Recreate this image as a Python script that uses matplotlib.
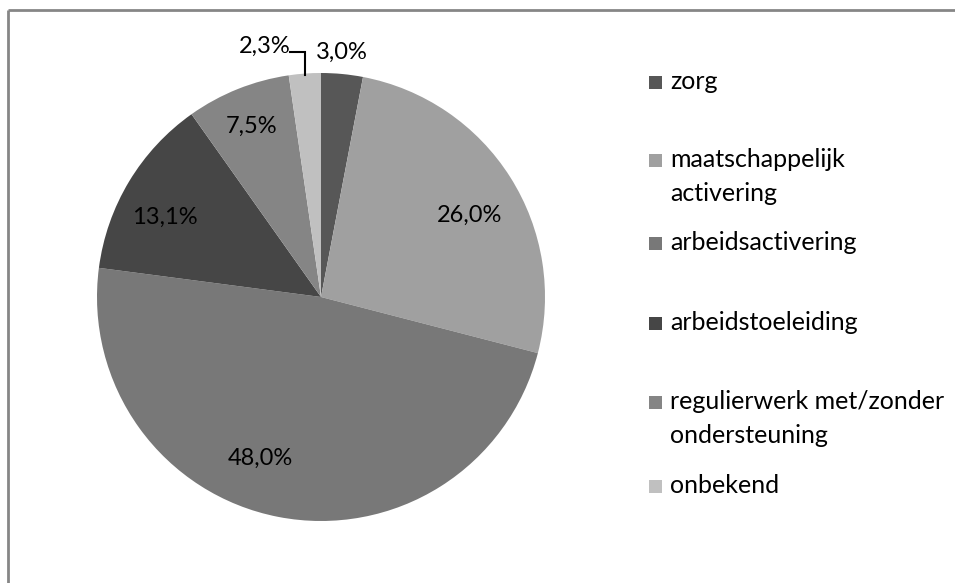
import matplotlib.pyplot as plt
from matplotlib.patches import Rectangle

categories = ['zorg', 'maatschappelijk\nactivering', 'arbeidsactivering',
              'arbeidstoeleiding', 'regulierwerk met/zonder\nondersteuning', 'onbekend']
values = [3.0, 26.0, 48.0, 13.1, 7.5, 2.3]
colors = ['#575757', '#a0a0a0', '#787878', '#464646', '#858585', '#c0c0c0']

# label positions in pixels (from top-left), picked by eye
label_pos = [(342, 52), (470, 215), (260, 458), (165, 217), (252, 126), (265, 46)]
legend_y = [82, 160, 243, 323, 402, 486]

W, H = 955, 583
fig = plt.figure(figsize=(W / 100, H / 100), dpi=100)
ax = fig.add_axes([0, 0, 1, 1])

font = 'Lato'

ax.pie(values, colors=colors, startangle=90, counterclock=False,
       center=(321, H - 297), radius=224, frame=True,
       wedgeprops=dict(linewidth=0))
ax.set_xlim(0, W)
ax.set_ylim(0, H)
ax.axis('off')

for v, (x, y) in zip(values, label_pos):
    ax.text(x, H - y, f'{v:.1f}%'.replace('.', ','), ha='center', va='center',
            fontsize=17, family=font, color='black')

# leader line for the small slice
ax.plot([290, 305, 305], [H - 52, H - 52, H - 75], color='black', lw=1.5,
        solid_joinstyle='miter')

for lab, c, y in zip(categories, colors, legend_y):
    ax.add_patch(Rectangle((649, H - y - 6.5), 13, 13, color=c, lw=0))
    ax.text(670, H - y + 12, lab, ha='left', va='top',
            fontsize=18, family=font, color='black', linespacing=1.6)

# chart border (only top and left visible)
ax.plot([8, W], [H - 9.5, H - 9.5], color='#868686', lw=2, solid_capstyle='butt')
ax.plot([8, 8], [H - 9.5, 0], color='#868686', lw=2, solid_capstyle='butt')

fig.savefig('out.png', dpi=100)
